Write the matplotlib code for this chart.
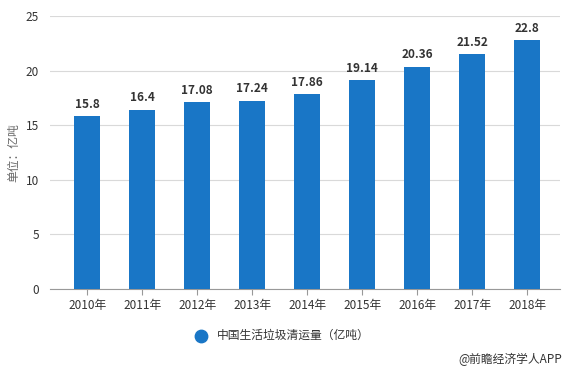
import matplotlib.pyplot as plt

plt.rcParams['font.family'] = ['Noto Sans CJK SC', 'DejaVu Sans']

years = ["2010年", "2011年", "2012年", "2013年", "2014年", "2015年", "2016年", "2017年", "2018年"]
values = [15.8, 16.4, 17.08, 17.24, 17.86, 19.14, 20.36, 21.52, 22.8]
labels = ["15.8", "16.4", "17.08", "17.24", "17.86", "19.14", "20.36", "21.52", "22.8"]
yticks = [0, 5, 10, 15, 20, 25]

bar_color = "#1976c6"

fig = plt.figure(figsize=(5.68, 3.72), dpi=100)
ax = fig.add_axes([0.088, 0.223, 0.898, 0.734])

x = range(len(years))
bars = ax.bar(x, values, width=0.47, color=bar_color, zorder=3)
for xi, v, lab in zip(x, values, labels):
    ax.text(xi, v + 0.5, lab, ha="center", va="bottom", fontsize=8.5,
            fontweight="bold", color="#333333", zorder=4)

ax.set_xlim(-0.68, 8.6)
ax.set_ylim(0, 25)
ax.set_yticks(yticks)
ax.set_xticks(list(x))
ax.set_xticklabels(years)
ax.grid(axis="y", color="#d9d9d9", linewidth=0.8, zorder=0)
for s in ["top", "right", "left"]:
    ax.spines[s].set_visible(False)
ax.spines["bottom"].set_color("#999999")
ax.tick_params(axis="y", length=0, labelsize=8.5, labelcolor="#333333", pad=8)
ax.tick_params(axis="x", length=4, color="#999999", labelsize=8.5, labelcolor="#333333")
ax.set_ylabel("单位：亿吨", fontsize=8.5, color="#666666", labelpad=4)

ax.scatter([], [], s=80, color=bar_color, label="中国生活垃圾清运量（亿吨）")
ax.legend(loc="center", bbox_to_anchor=(0.45, -0.17), frameon=False, fontsize=8.5,
          handletextpad=0.3, labelcolor="#333333")

fig.text(0.99, 0.035, "@前瞻经济学人APP", ha="right", va="center", fontsize=8.5, color="#333333")

fig.savefig("out.png", dpi=100)
